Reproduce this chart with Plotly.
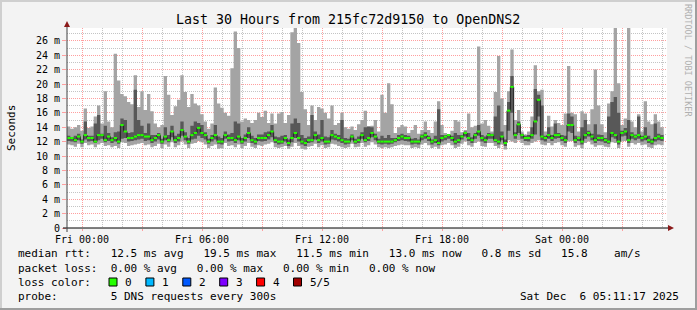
import plotly.graph_objects as go
import pandas as pd

# ---------------- data (10-minute samples, ms) ----------------
series_start = "2025-12-04 23:15:00"
step_minutes = 10

rtt_max = [
    14.1, 13.8, 14.0, 14.3, 13.5, 16.6, 13.9, 14.1, 15.5, 17.0,
    14.5, 19.0, 14.8, 14.0, 24.2, 20.5, 18.6, 18.3, 17.5, 17.2,
    21.2, 16.8, 19.0, 16.4, 18.6, 16.2, 14.5, 14.0, 14.3, 21.1,
    18.5, 15.7, 16.9, 17.8, 21.2, 18.9, 16.8, 18.6, 17.3, 17.0,
    15.8, 14.8, 13.8, 14.5, 19.5, 17.3, 16.7, 16.0, 15.6, 22.2,
    27.3, 25.0, 14.8, 15.2, 15.0, 14.6, 15.0, 16.0, 15.4, 16.3,
    14.6, 15.9, 14.5, 15.9, 16.1, 14.6, 15.7, 27.2, 27.8, 25.7,
    18.9, 16.5, 14.3, 17.0, 15.0, 16.8, 16.6, 16.0, 15.2, 17.0,
    14.3, 14.6, 16.0, 14.0, 13.8, 14.1, 13.6, 14.4, 15.0, 16.3,
    14.1, 14.2, 15.0, 13.4, 18.5, 16.0, 20.1, 17.2, 13.2, 14.0,
    14.3, 14.1, 13.2, 13.6, 14.3, 13.1, 13.6, 14.8, 13.6, 13.2,
    14.8, 17.6, 14.3, 13.2, 13.0, 13.5, 15.0, 14.8, 13.3, 13.6,
    15.9, 14.0, 14.2, 25.2, 14.5, 15.0, 14.2, 13.4, 18.9, 23.9,
    18.0, 14.3, 19.0, 24.8, 15.0, 16.4, 13.4, 13.0, 13.4, 15.5,
    22.6, 19.0, 19.2, 13.4, 15.6, 14.1, 15.0, 14.6, 14.3, 15.9,
    22.5, 16.0, 15.8, 13.4, 16.2, 15.9, 14.4, 16.5, 22.0, 17.0,
    14.4, 13.3, 17.3, 19.0, 27.8, 20.1, 14.3, 15.2, 27.8, 14.8,
    14.0, 15.8, 13.4, 17.6, 14.8, 14.4, 15.8, 14.8, 14.0,
]

rtt_p4 = [
    12.8, 12.6, 12.8, 13.1, 12.3, 14.8, 12.8, 12.8, 14.5, 15.7,
    13.1, 14.2, 13.2, 12.6, 13.3, 13.4, 15.2, 15.0, 13.2, 13.3,
    19.2, 15.0, 14.2, 13.2, 14.5, 12.9, 12.9, 13.2, 12.4, 14.0,
    12.9, 14.2, 12.8, 13.1, 14.8, 13.3, 12.5, 14.2, 14.8, 14.6,
    14.3, 13.3, 12.4, 12.9, 14.3, 12.7, 12.5, 13.4, 13.0, 13.2,
    14.8, 14.5, 12.5, 13.0, 14.0, 12.8, 12.5, 13.0, 13.0, 13.3,
    13.4, 14.3, 12.7, 12.6, 12.8, 12.9, 12.3, 14.5, 15.2, 14.6,
    12.9, 12.5, 12.7, 15.7, 13.4, 13.0, 15.0, 12.7, 12.6, 13.6,
    13.1, 12.9, 15.0, 12.5, 12.4, 13.0, 12.4, 12.7, 13.3, 14.0,
    14.1, 14.0, 13.1, 12.4, 12.8, 12.5, 12.9, 12.5, 12.5, 12.9,
    13.1, 12.9, 12.8, 12.4, 12.5, 12.3, 13.0, 13.3, 12.8, 12.3,
    12.8, 16.5, 12.9, 12.9, 12.9, 12.8, 13.2, 12.9, 12.9, 13.4,
    13.2, 12.6, 13.2, 14.3, 12.9, 12.7, 13.2, 13.1, 15.5, 17.0,
    13.4, 12.3, 17.5, 21.1, 13.3, 14.8, 13.1, 12.8, 12.9, 14.0,
    19.3, 18.5, 17.0, 12.8, 14.0, 12.9, 14.5, 13.2, 12.9, 12.8,
    15.9, 15.5, 12.8, 12.7, 14.0, 15.0, 13.5, 13.1, 14.4, 13.0,
    12.9, 12.5, 15.5, 17.5, 18.2, 16.0, 13.5, 13.9, 15.0, 13.3,
    13.0, 15.5, 12.8, 14.0, 12.8, 12.4, 14.5, 13.1, 12.9,
]

rtt_p2 = [
    12.1, 12.0, 11.9, 12.2, 11.7, 12.3, 12.0, 12.1, 11.8, 12.2,
    12.4, 11.9, 12.1, 11.8, 12.0, 11.7, 12.4, 12.5, 12.0, 12.1,
    12.2, 12.3, 12.4, 12.1, 12.2, 11.8, 12.0, 12.3, 11.7, 12.2,
    11.9, 12.6, 11.8, 12.0, 12.8, 12.2, 11.7, 12.3, 12.4, 12.8,
    12.5, 12.3, 11.7, 12.0, 12.3, 11.7, 11.6, 12.4, 12.0, 12.1,
    11.8, 12.2, 11.7, 12.0, 12.5, 11.8, 11.6, 12.1, 12.0, 12.1,
    12.3, 12.6, 11.8, 11.6, 11.7, 12.0, 11.4, 11.9, 12.5, 12.0,
    11.6, 11.4, 11.8, 11.9, 12.3, 11.8, 12.0, 11.6, 11.7, 12.3,
    12.2, 12.0, 11.8, 11.6, 11.7, 12.2, 11.7, 11.8, 12.4, 11.9,
    12.1, 12.6, 12.2, 11.7, 11.6, 11.7, 11.6, 11.7, 11.9, 12.1,
    12.2, 12.1, 12.0, 11.6, 11.7, 11.6, 12.2, 12.4, 12.1, 11.6,
    11.8, 11.5, 12.0, 12.2, 12.4, 12.1, 11.6, 11.8, 12.3, 12.7,
    12.1, 11.8, 12.4, 12.8, 12.0, 11.8, 12.4, 12.4, 11.9, 11.6,
    12.2, 11.4, 13.5, 16.0, 12.4, 13.2, 12.4, 12.1, 12.0, 12.4,
    13.0, 15.5, 12.2, 12.0, 12.4, 12.1, 12.4, 12.5, 12.1, 11.8,
    13.4, 13.2, 11.8, 12.1, 11.6, 12.4, 12.7, 12.2, 11.8, 12.1,
    12.0, 11.8, 11.7, 12.6, 12.4, 11.6, 12.7, 12.8, 11.8, 12.4,
    12.2, 12.4, 12.0, 12.2, 11.8, 11.6, 12.0, 12.2, 12.1,
]

rtt_min = [
    11.6, 11.5, 11.3, 11.7, 11.2, 11.8, 11.5, 11.6, 11.2, 11.6,
    11.8, 11.4, 11.5, 11.2, 11.4, 11.1, 11.9, 11.8, 11.4, 11.5,
    11.6, 11.7, 11.8, 11.5, 11.6, 11.2, 11.4, 11.7, 11.1, 11.6,
    11.3, 11.9, 11.2, 11.5, 12.0, 11.6, 11.1, 11.7, 11.8, 12.1,
    11.9, 11.6, 11.1, 11.4, 11.6, 11.0, 11.1, 11.8, 11.4, 11.5,
    11.2, 11.6, 11.1, 11.4, 11.8, 11.3, 11.1, 11.5, 11.4, 11.6,
    11.7, 11.9, 11.2, 11.1, 11.2, 11.4, 11.0, 11.3, 11.8, 11.4,
    11.0, 10.9, 11.3, 11.4, 11.7, 11.2, 11.5, 11.1, 11.2, 11.7,
    11.6, 11.4, 11.2, 11.1, 11.2, 11.7, 11.2, 11.3, 11.8, 11.3,
    11.5, 11.9, 11.6, 11.2, 11.1, 11.2, 11.1, 11.2, 11.4, 11.5,
    11.6, 11.5, 11.5, 11.1, 11.2, 11.1, 11.6, 11.8, 11.5, 11.1,
    11.3, 11.0, 11.5, 11.6, 11.8, 11.5, 11.1, 11.3, 11.7, 12.0,
    11.5, 11.3, 11.8, 12.0, 11.4, 11.3, 11.8, 11.8, 11.4, 11.1,
    11.6, 10.9, 12.2, 12.0, 11.8, 12.2, 11.8, 11.5, 11.5, 11.8,
    12.0, 12.2, 11.6, 11.5, 11.8, 11.5, 11.8, 11.9, 11.5, 11.3,
    12.0, 12.1, 11.3, 11.5, 11.1, 11.8, 12.0, 11.6, 11.3, 11.5,
    11.5, 11.3, 11.2, 11.9, 11.8, 11.1, 12.0, 12.1, 11.3, 11.8,
    11.6, 11.8, 11.5, 11.6, 11.2, 11.1, 11.5, 11.6, 11.5,
]

rtt_median = [
    12.5, 12.5, 12.2, 12.7, 12.0, 12.9, 12.5, 12.5, 12.0, 12.9,
    12.9, 12.2, 12.7, 12.2, 12.5, 12.0, 14.3, 13.4, 12.5, 12.5,
    12.7, 12.9, 12.9, 12.7, 12.7, 12.2, 12.5, 12.9, 12.0, 12.7,
    12.2, 13.4, 12.2, 12.5, 13.6, 12.7, 12.0, 12.9, 13.2, 13.9,
    13.2, 12.9, 12.0, 12.5, 12.9, 12.0, 12.0, 12.9, 12.5, 12.5,
    12.2, 12.7, 12.0, 12.5, 13.2, 12.2, 12.0, 12.5, 12.5, 12.5,
    12.9, 13.4, 12.2, 12.0, 12.0, 12.5, 11.8, 12.5, 13.2, 12.5,
    12.0, 11.8, 12.2, 12.2, 12.9, 12.2, 12.5, 12.0, 12.0, 12.9,
    12.7, 12.5, 12.2, 12.0, 12.0, 12.7, 12.0, 12.2, 12.9, 12.2,
    12.5, 13.2, 12.7, 12.0, 12.0, 12.0, 12.0, 12.0, 12.2, 12.5,
    12.7, 12.5, 12.5, 12.0, 12.0, 12.0, 12.7, 12.9, 12.5, 12.0,
    12.2, 11.8, 12.5, 12.7, 12.9, 12.5, 12.0, 12.2, 12.7, 13.2,
    12.5, 12.2, 12.9, 13.4, 12.5, 12.2, 12.9, 12.9, 12.2, 12.0,
    12.7, 11.8, 16.3, 19.6, 12.9, 14.4, 12.9, 12.5, 12.5, 12.9,
    14.8, 17.8, 12.7, 12.5, 12.9, 12.5, 12.9, 12.9, 12.5, 12.2,
    14.3, 14.3, 12.2, 12.5, 12.0, 12.9, 13.2, 12.7, 12.2, 12.5,
    12.5, 12.2, 12.0, 13.2, 12.9, 12.0, 13.2, 13.4, 12.2, 12.9,
    12.7, 12.9, 12.5, 12.7, 12.2, 12.0, 12.5, 12.7, 12.5,
]

# axis ticks
x_range = ["2025-12-04 23:15:00", "2025-12-06 05:15:00"]
x_tick_vals = ["2025-12-05 00:00", "2025-12-05 03:00", "2025-12-05 06:00",
               "2025-12-05 09:00", "2025-12-05 12:00", "2025-12-05 15:00",
               "2025-12-05 18:00", "2025-12-05 21:00", "2025-12-06 00:00",
               "2025-12-06 03:00"]
x_tick_text = ["Fri 00:00", "", "Fri 06:00", "", "Fri 12:00", "",
               "Fri 18:00", "", "Sat 00:00", ""]
y_tick_vals = [0, 2, 4, 6, 8, 10, 12, 14, 16, 18, 20, 22, 24, 26]
y_tick_text = ["0", "2 m", "4 m", "6 m", "8 m", "10 m", "12 m", "14 m",
               "16 m", "18 m", "20 m", "22 m", "24 m", "26 m"]

# legend texts
title_text = "Last 30 Hours from 215fc72d9150 to OpenDNS2"
rtt_line = "median rtt:   12.5 ms avg   19.5 ms max   11.5 ms min   13.0 ms now   0.8 ms sd   15.8    am/s"
loss_line = "packet loss:  0.00 % avg   0.00 % max   0.00 % min   0.00 % now"
loss_color_label = "loss color:"
loss_labels = ["0", "1", "2", "3", "4", "5/5"]
loss_colors = ["#26ff00", "#00b8ff", "#0059ff", "#7e00ff", "#ff0000", "#a10000"]
probe_line = "probe:        5 DNS requests every 300s"
stamp_text = "Sat Dec  6 05:11:17 2025"

# ---------------- build ----------------
n = len(rtt_median)
t0 = pd.Timestamp(series_start)
edges = [t0 + pd.Timedelta(minutes=step_minutes * i) for i in range(n + 1)]


def stepped(vals):
    return list(vals) + [vals[-1]]


W, H = 697, 310
L, R, T, B = 67, 667, 28, 228
FONT = "DejaVu Sans Mono"


def px(x):
    return (x - L) / (R - L)


def py(y):
    return (B - y) / (B - T)


fig = go.Figure()
fig.add_trace(go.Scatter(x=edges, y=stepped(rtt_min), mode="lines",
                         line=dict(width=0, shape="hv"), hoverinfo="skip"))
fig.add_trace(go.Scatter(x=edges, y=stepped(rtt_max), mode="lines", fill="tonexty",
                         fillcolor="#a4a4a4", line=dict(width=0, shape="hv"),
                         hoverinfo="skip"))
fig.add_trace(go.Scatter(x=edges, y=stepped(rtt_p2), mode="lines",
                         line=dict(width=0, shape="hv"), hoverinfo="skip"))
fig.add_trace(go.Scatter(x=edges, y=stepped(rtt_p4), mode="lines", fill="tonexty",
                         fillcolor="#585858", line=dict(width=0, shape="hv"),
                         hoverinfo="skip"))
fig.add_trace(go.Scatter(x=edges, y=stepped(rtt_median), mode="lines",
                         line=dict(width=1, shape="hv", color="#202020"),
                         hoverinfo="skip"))
gx, gy = [], []
for i in range(n):
    gx += [edges[i], edges[i + 1], None]
    gy += [rtt_median[i], rtt_median[i], None]
fig.add_trace(go.Scatter(x=gx, y=gy, mode="lines", connectgaps=False,
                         line=dict(width=2, color=loss_colors[0]), hoverinfo="skip"))

major = "#ff9f9f"
minor = "#c4c4c4"

fig.update_layout(
    width=W, height=H, autosize=False,
    margin=dict(l=L, r=W - R, t=T, b=H - B, pad=0),
    paper_bgcolor="#f3f3f3", plot_bgcolor="#ffffff",
    showlegend=False,
    font=dict(family=FONT, size=10, color="#000000"),
    xaxis=dict(type="date", range=x_range, tickmode="array",
               tickvals=x_tick_vals, ticktext=x_tick_text,
               showgrid=True, gridcolor=major, griddash="1px,1px", gridwidth=1,
               ticks="outside", ticklen=2, tickcolor=major,
               tickfont=dict(family=FONT, size=10, color="#000"),
               minor=dict(tickmode="linear", tick0="2025-12-05 00:00",
                          dtick=3600000, showgrid=True, gridcolor=minor,
                          griddash="1px,1px", gridwidth=1),
               showline=False, zeroline=False, fixedrange=True),
    yaxis=dict(range=[0, (B - T) / 7.2], tickmode="array",
               tickvals=y_tick_vals, ticktext=y_tick_text,
               showgrid=True, gridcolor=major, griddash="1px,1px", gridwidth=1,
               ticks="outside", ticklen=4, tickcolor=major,
               tickfont=dict(family=FONT, size=10, color="#000"),
               minor=dict(tickmode="linear", tick0=0, dtick=1, showgrid=True,
                          gridcolor=minor, griddash="1px,1px", gridwidth=1),
               showline=False, zeroline=False, fixedrange=True),
)

shapes = []
# frame (3D border)
shapes.append(dict(type="rect", xref="paper", yref="paper", x0=px(0), x1=px(W),
                   y0=py(0), y1=py(2), fillcolor="#cfcfcf", line=dict(width=0), layer="above"))
shapes.append(dict(type="rect", xref="paper", yref="paper", x0=px(0), x1=px(2),
                   y0=py(0), y1=py(H), fillcolor="#cfcfcf", line=dict(width=0), layer="above"))
shapes.append(dict(type="rect", xref="paper", yref="paper", x0=px(0), x1=px(W),
                   y0=py(H - 2), y1=py(H), fillcolor="#9e9e9e", line=dict(width=0), layer="above"))
shapes.append(dict(type="rect", xref="paper", yref="paper", x0=px(W - 2), x1=px(W),
                   y0=py(0), y1=py(H), fillcolor="#9e9e9e", line=dict(width=0), layer="above"))
# axes
shapes.append(dict(type="line", xref="paper", yref="paper", x0=px(63), x1=px(669),
                   y0=py(228), y1=py(228), line=dict(color="#000000", width=1), layer="above"))
shapes.append(dict(type="line", xref="paper", yref="paper", x0=px(67), x1=px(67),
                   y0=py(232), y1=py(25), line=dict(color="#404040", width=1), layer="above"))


def tri(pts):
    return "M " + " L ".join(f"{px(a):.5f},{py(b):.5f}" for a, b in pts) + " Z"


shapes.append(dict(type="path", xref="paper", yref="paper",
                   path=tri([(668, 225), (674, 228), (668, 231)]),
                   fillcolor="#8b1a1a", line=dict(width=0), layer="above"))
shapes.append(dict(type="path", xref="paper", yref="paper",
                   path=tri([(64, 27), (67, 21), (70, 27)]),
                   fillcolor="#8b1a1a", line=dict(width=0), layer="above"))
# loss colour boxes
for i, c in enumerate(loss_colors):
    x0 = 109 + 36.9 * i
    shapes.append(dict(type="rect", xref="paper", yref="paper", x0=px(x0), x1=px(x0 + 8),
                       y0=py(286), y1=py(278), fillcolor=c,
                       line=dict(color="#000000", width=1), layer="above"))
fig.update_layout(shapes=shapes)

ann = []


def text(s, x, y, xanchor="left", size=11, color="#000", angle=0):
    ann.append(dict(text=s, x=px(x), y=py(y), xref="paper", yref="paper",
                    xanchor=xanchor, yanchor="middle", showarrow=False,
                    textangle=angle,
                    font=dict(family=FONT, size=size, color=color)))


text(title_text, 348, 19, "center", 13.3)
text("Seconds", 11, 128, "center", 11, angle=-90)
text("RRDTOOL / TOBI OETIKER", 688, 60, "center", 8.5, "#b0b0b0", angle=90)
text(rtt_line, 16, 254)
text(loss_line, 16, 268)
text(loss_color_label, 16, 282)
for i, lab in enumerate(loss_labels):
    text(lab, 123 + 36.9 * i, 282)
text(probe_line, 16, 296)
text(stamp_text, 681, 296, "right")
fig.update_layout(annotations=ann)

fig.write_html("out.html")
